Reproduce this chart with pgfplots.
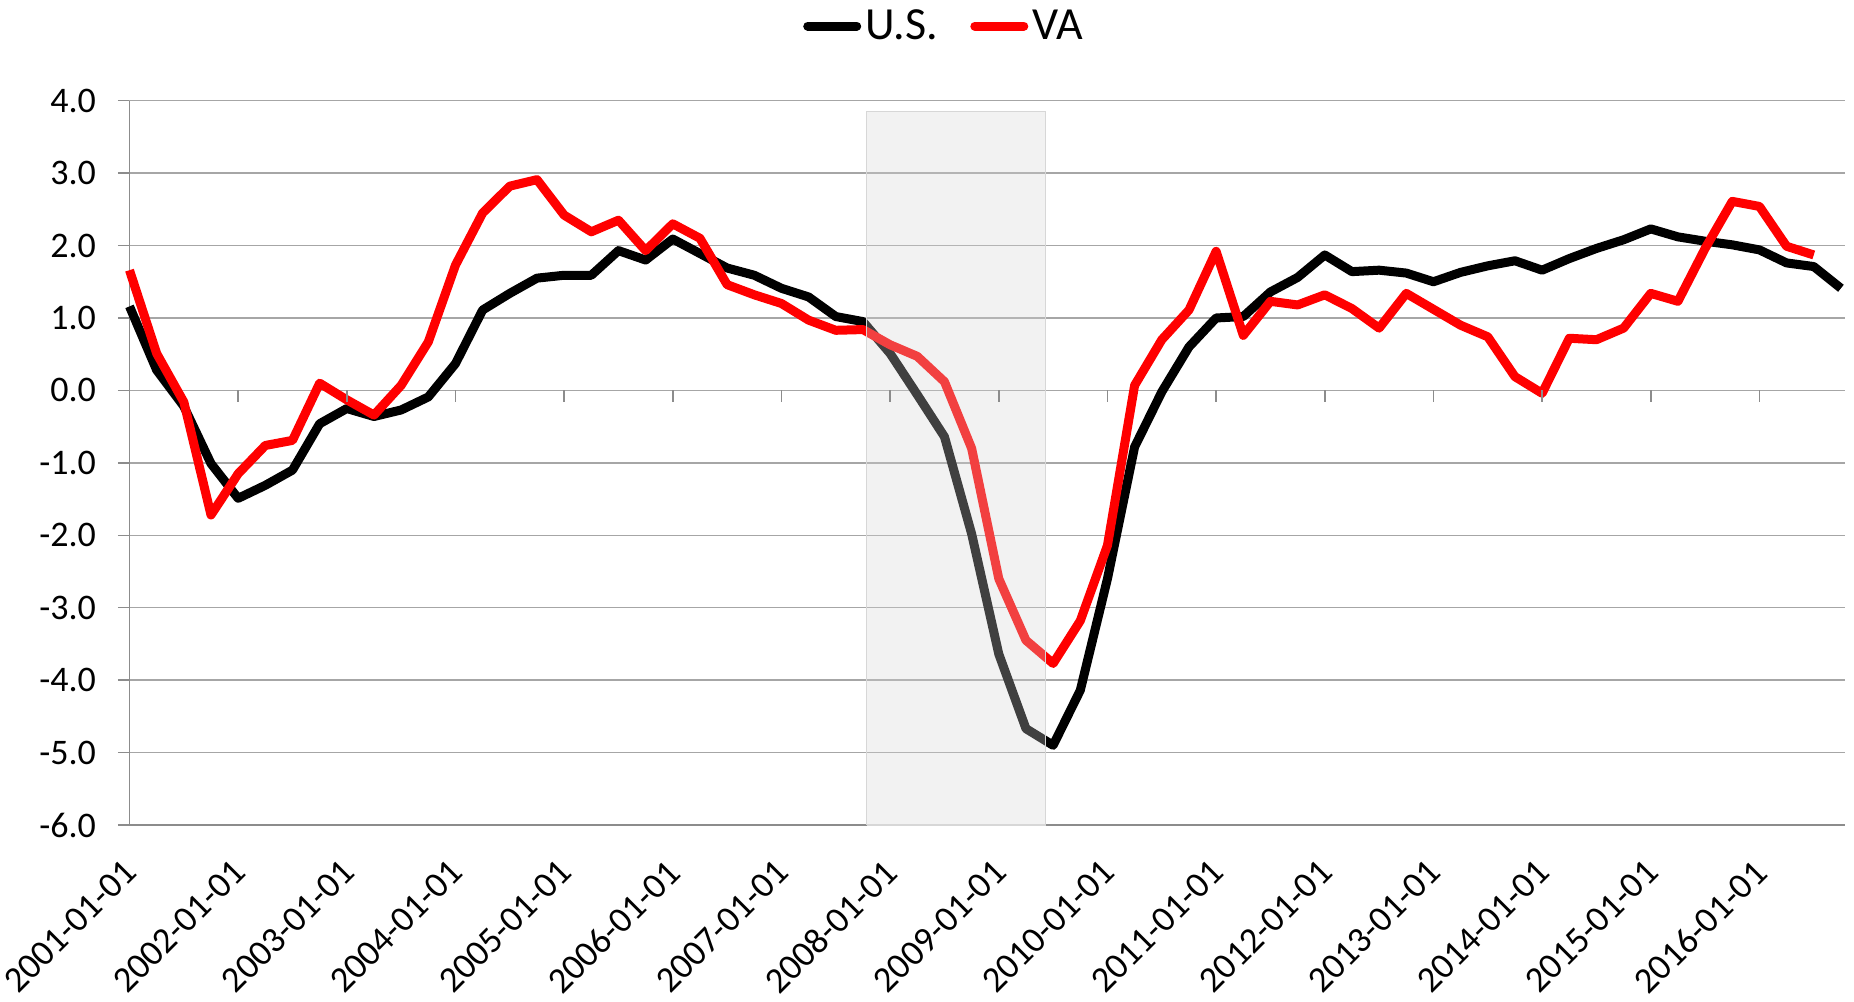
\documentclass[border=0pt]{standalone}
\usepackage{fontspec}
\setmainfont{Carlito}
\usepackage{pgfplots}
\pgfplotsset{compat=1.18}
\usepackage{pgfplotstable}
\definecolor{gridgray}{RGB}{166,166,166}
\definecolor{axisgray}{RGB}{140,140,140}
\definecolor{shadegray}{RGB}{213,213,213}
\definecolor{shadeborder}{RGB}{215,215,215}
\definecolor{vared}{RGB}{255,0,0}

\pgfplotstableread{
x y
0 1.16
1 0.28
2 -0.22
3 -1.01
4 -1.49
5 -1.31
6 -1.10
7 -0.46
8 -0.25
9 -0.36
10 -0.27
11 -0.09
12 0.37
13 1.11
14 1.34
15 1.55
16 1.59
17 1.59
18 1.93
19 1.80
20 2.09
21 1.89
22 1.69
23 1.59
24 1.41
25 1.29
26 1.02
27 0.95
28 0.51
29 -0.06
30 -0.64
31 -1.98
32 -3.64
33 -4.67
34 -4.90
35 -4.14
36 -2.60
37 -0.78
38 -0.02
39 0.60
40 1.00
41 1.02
42 1.36
43 1.56
44 1.87
45 1.64
46 1.66
47 1.62
48 1.50
49 1.63
50 1.72
51 1.79
52 1.66
53 1.82
54 1.96
55 2.08
56 2.23
57 2.12
58 2.06
59 2.01
60 1.94
61 1.76
62 1.71
63 1.41
}\us

\pgfplotstableread{
x y
0 1.66
1 0.51
2 -0.16
3 -1.72
4 -1.15
5 -0.76
6 -0.69
7 0.10
8 -0.13
9 -0.34
10 0.07
11 0.67
12 1.73
13 2.45
14 2.82
15 2.91
16 2.42
17 2.19
18 2.35
19 1.93
20 2.30
21 2.10
22 1.46
23 1.32
24 1.20
25 0.97
26 0.83
27 0.84
28 0.63
29 0.47
30 0.12
31 -0.80
32 -2.60
33 -3.45
34 -3.77
35 -3.18
36 -2.14
37 0.07
38 0.70
39 1.11
40 1.92
41 0.76
42 1.23
43 1.18
44 1.32
45 1.13
46 0.86
47 1.34
48 1.12
49 0.90
50 0.74
51 0.19
52 -0.04
53 0.72
54 0.70
55 0.86
56 1.34
57 1.23
58 1.96
59 2.61
60 2.54
61 1.99
62 1.87
}\va

\begin{document}
\begin{tikzpicture}
\begin{axis}[
  at={(0pt,0pt)}, anchor=south west,
  scale only axis, width=857.75pt, height=362.15pt,
  xmin=0, xmax=63.15, ymin=-6, ymax=4,
  axis x line=bottom, axis y line=left,
  axis line style={-, draw=axisgray, line width=0.75pt},
  ytick={-6,-5,...,4},
  yticklabel={\pgfmathprintnumber[fixed,fixed zerofill,precision=1]{\tick}},
  /pgf/number format/assume math mode=true,
  ymajorgrids, grid style={draw=gridgray, line width=0.7pt},
  tick align=outside, major tick length=5.75pt,
  y tick style={draw=axisgray, line width=0.75pt},
  x tick style={draw=none},
  xtick={0,4,...,60},
  xticklabels={2001-01-01,2002-01-01,2003-01-01,2004-01-01,2005-01-01,2006-01-01,2007-01-01,2008-01-01,2009-01-01,2010-01-01,2011-01-01,2012-01-01,2013-01-01,2014-01-01,2015-01-01,2016-01-01},
  xticklabel style={xshift=3pt, yshift=-12.5pt, rotate=45, anchor=east, font=\fontsize{18.2}{21}\selectfont},
  yticklabel style={xshift=-7.5pt, font=\fontsize{18}{21}\selectfont},
  legend style={at={(0.4754,1.103)}, anchor=center, draw=none, fill=none,
    legend columns=-1, font=\fontsize{23}{27}\selectfont,
    /tikz/every even column/.append style={column sep=14pt}},
  legend image code/.code={\draw[#1, line cap=round] (0pt,0pt) -- (24.5pt,0pt);},
  clip=false,
]
\addplot[black, line width=4.5pt, line join=round] table[x=x,y=y]{\us};
\addlegendentry{U.S.}
\addplot[vared, line width=4.5pt, line join=round] table[x=x,y=y]{\va};
\addlegendentry{VA}
\addplot[forget plot, fill=shadegray, fill opacity=0.3, draw=shadeborder, line width=0.6pt]
  coordinates {(27.14,-6) (33.71,-6) (33.71,3.85) (27.14,3.85) (27.14,-6)};
\pgfplotsinvokeforeach{4,8,...,60}{
  \draw[axisgray, line width=0.75pt] (axis cs:#1,0) -- ++(0pt,-5.75pt);
}
\end{axis}
\pgfresetboundingbox
\useasboundingbox (-64.75pt,-88.5pt) rectangle (862.25pt,412.5pt);
\end{tikzpicture}
\end{document}
